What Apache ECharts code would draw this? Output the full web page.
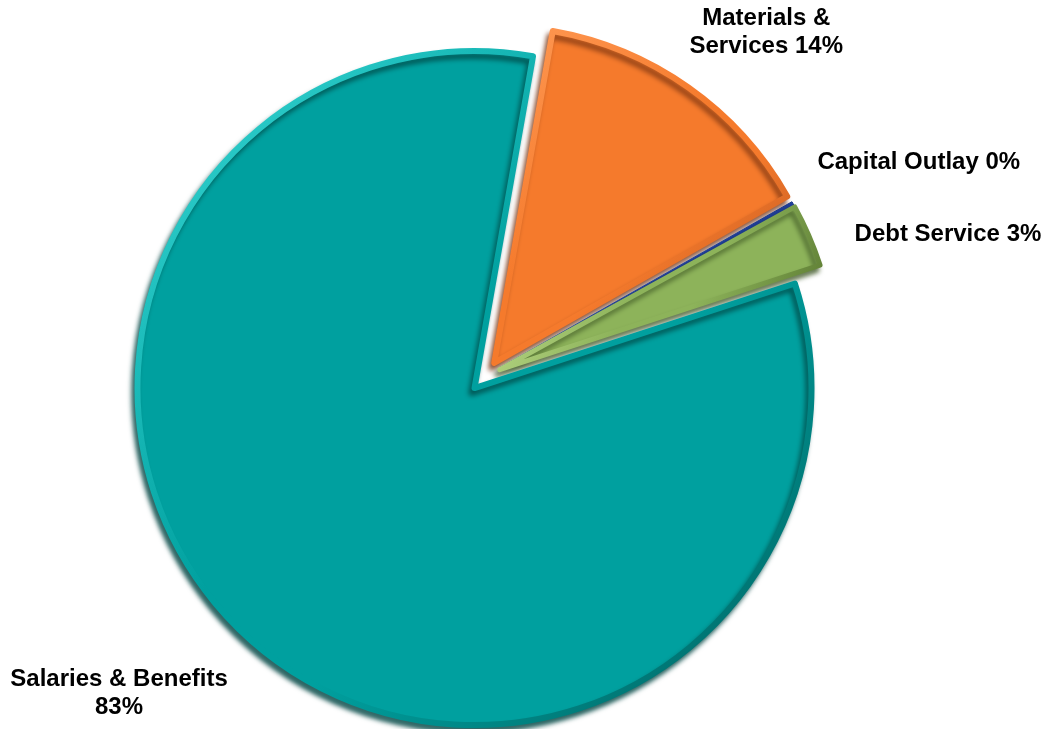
<!DOCTYPE html>
<html>
<head>
<meta charset="utf-8">
<script src="https://cdn.jsdelivr.net/npm/echarts@6/dist/echarts.min.js"></script>
<style>
  html, body { margin: 0; padding: 0; background: #ffffff; }
  #chart { width: 1047px; height: 729px; }
</style>
</head>
<body>
<div id="chart"></div>
<script>
// Budget share by expense category (percent of total)
const categories = ['Materials & Services', 'Capital Outlay', 'Debt Service', 'Salaries & Benefits'];
const shares = [14.0, 0.2, 3.0, 82.8];
const labelNames = ['Materials &\nServices', 'Capital Outlay', 'Debt Service', 'Salaries & Benefits\n'];

// Face, rim highlight, rim shade and extrusion colours per slice
const faceColors = ['#F57A2C', '#1F3F9C', '#8DB35A', '#00A09F'];
const rimLight   = ['#FF9A55', '#3A62D0', '#C7E396', '#3ADAD7'];
const rimDark    = ['#A8491A', '#12286A', '#4F6C28', '#005E5C'];
const sideColors = ['rgba(120,50,15,0.75)', 'rgba(13,31,85,0.8)', 'rgba(60,85,35,0.75)', 'rgba(0,70,68,0.8)'];
const rimWidths  = [6, 1, 5, 6];

// label nudges relative to the library's outside placement
const labelNudge = [
  { dx: 67, dy: -47 },
  { dx: 112, dy: -36 },
  { dx: 125, dy: 3 },
  { dx: -123, dy: 43 }
];

const chart = echarts.init(document.getElementById('chart'), null, { renderer: 'canvas' });

const data = categories.map((name, i) => ({
  name: name,
  value: shares[i],
  selected: true,
  itemStyle: {
    color: faceColors[i],
    borderWidth: rimWidths[i],
    borderJoin: 'round',
    borderColor: {
      type: 'linear', x: 0, y: 0, x2: 1, y2: 1,
      colorStops: [
        { offset: 0, color: rimLight[i] },
        { offset: 0.45, color: faceColors[i] },
        { offset: 0.6, color: faceColors[i] },
        { offset: 1, color: rimDark[i] }
      ]
    },
    shadowColor: sideColors[i],
    shadowBlur: 5,
    shadowOffsetX: -3,
    shadowOffsetY: 5
  }
}));

chart.setOption({
  backgroundColor: '#ffffff',
  animation: false,
  series: [{
    type: 'pie',
    center: [485, 376],
    radius: [0, 337],
    startAngle: 80,
    clockwise: true,
    selectedMode: 'multiple',
    selectedOffset: 16,
    avoidLabelOverlap: false,
    emphasis: { disabled: true },
    label: {
      show: true,
      position: 'outside',
      fontFamily: 'Liberation Sans, Arial, sans-serif',
      fontWeight: 'bold',
      fontSize: 24,
      lineHeight: 28,
      color: '#000000',
      formatter: p => {
        const pct = Math.round(p.percent) + '%';
        const base = labelNames[p.dataIndex];
        return base.endsWith('\n') ? base + pct : base + ' ' + pct;
      }
    },
    labelLine: { show: false, length: 10, length2: 0 },
    labelLayout: p => Object.assign({ align: 'center' }, labelNudge[p.dataIndex]),
    data: data
  }]
});
</script>
</body>
</html>
